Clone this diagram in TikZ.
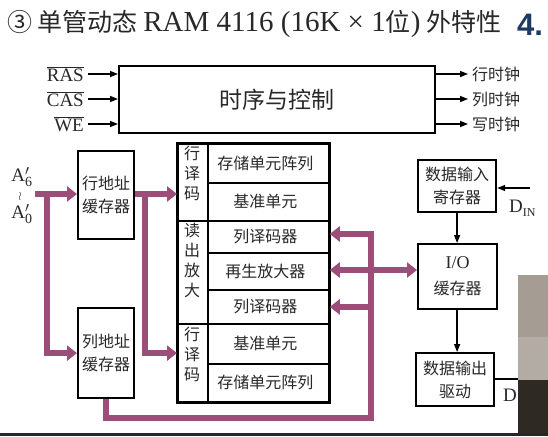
\documentclass[tikz,border=0pt]{standalone}
\usepackage{fontspec}
\setmainfont{Liberation Serif}
\newfontfamily\cjk{Noto Sans CJK SC}
\newfontfamily\hsans{Liberation Sans}
\usetikzlibrary{arrows.meta}
\definecolor{pur}{RGB}{155,78,120}
\definecolor{ttl}{RGB}{30,58,100}
\definecolor{txt}{RGB}{40,40,40}
\definecolor{phA}{RGB}{165,157,148}
\definecolor{phB}{RGB}{178,172,165}
\definecolor{phC}{RGB}{46,41,34}
\begin{document}
\begin{tikzpicture}[x=1pt,y=-1pt,
  bx/.style={draw, line width=2.2pt, inner sep=0pt, anchor=north west, text=txt},
  cell/.style={draw, line width=1.8pt, inner sep=0pt, anchor=north west, text=txt},
  cn/.style={font=\cjk\fontsize{16}{23}\selectfont, text=txt, align=center, inner sep=0pt},
  vt/.style={font=\cjk\fontsize{16}{20}\selectfont, text=txt, align=center, inner sep=0pt, anchor=north},
  lat/.style={font=\fontsize{19}{22}\selectfont, text=txt, inner sep=0pt},
  pa/.style={draw=pur, line width=5.5pt, -{Triangle[length=10pt,width=15pt]}},
  pl/.style={draw=pur, line width=5.5pt},
  ba/.style={draw=black, line width=1.4pt, -{Triangle[length=8pt,width=6pt]}},
  bl/.style={draw=black, line width=1.4pt}]
\useasboundingbox (0,0) rectangle (548,436);
\fill[white] (0,0) rectangle (548,436);

% title
\node[anchor=west, inner sep=0pt, text=txt] (title) at (7,24)
  {\cjk\fontsize{25}{28}\selectfont ③ 单管动态 {\fontspec{Liberation Serif}\fontsize{29}{30}\selectfont RAM 4116 (16K × 1}位{\fontspec{Liberation Serif}\fontsize{29}{30}\selectfont)} 外特性};
\node[anchor=west, inner sep=0pt, text=ttl] (four) at (517,25) {\hsans\bfseries\fontsize{31}{32}\selectfont 4.};

% control box
\node[bx, minimum width=316pt, minimum height=67pt] (ctrl) at (118,65) {};
\node[font=\cjk\fontsize{23}{26}\selectfont, text=txt] (ctrlt) at (ctrl.center) {时序与控制};
\foreach \n/\t/\y in {ras/RAS/74, cas/CAS/99, we/WE/124}{
  \node[lat, anchor=east] (\n) at (84,\y) {$\overline{\mbox{\t}}$};
  \coordinate (\n s) at (88,\y);
  \draw[ba] (\n s) -- (ctrl.west |- \n s);
}
\foreach \n/\t/\y in {rc/行时钟/74, cc/列时钟/99, wc/写时钟/124}{
  \coordinate (\n e) at (468,\y);
  \draw[ba] (ctrl.east |- \n e) -- (\n e);
  \node[cn, anchor=west] (\n) at (472,\y) {\t};
}

% address inputs
\node[lat] (a6) at (22,177) {A$'_{\mbox{\fontsize{14}{14}\selectfont 6}}$};
\node[lat, font=\fontsize{13}{14}\selectfont] (awr) at (20,196) {$\wr$};
\node[lat] (a0) at (22,214) {A$'_{\mbox{\fontsize{14}{14}\selectfont 0}}$};
\coordinate (ainp) at (35,194);
\coordinate (aj) at (47,194);

% buffers
\node[bx, minimum width=56pt, minimum height=88pt] (rowbuf) at (77,150) {};
\node[cn] (rowbuft) at (rowbuf.center) {行地址\\缓存器};
\node[bx, minimum width=56pt, minimum height=90pt] (colbuf) at (77,307) {};
\node[cn] (colbuft) at (colbuf.center) {列地址\\缓存器};

% array
\node[cell, minimum width=30pt, minimum height=77pt] (l1) at (177,143) {};
\node[cell, minimum width=30pt, minimum height=103pt] (l2) at (177,220) {};
\node[cell, minimum width=30pt, minimum height=78pt] (l3) at (177,323) {};
\node[vt] (l1t) at (192,146) {行\\译\\码};
\node[vt] (l2t) at (192,223) {读\\出\\放\\大};
\node[vt] (l3t) at (192,327) {行\\译\\码};
\node[cell, minimum width=121pt, minimum height=39pt] (r1) at (207,143) {};
\node[cell, minimum width=121pt, minimum height=38pt] (r2) at (207,182) {};
\node[cell, minimum width=121pt, minimum height=32pt] (r3) at (207,220) {};
\node[cell, minimum width=121pt, minimum height=37pt] (r4) at (207,252) {};
\node[cell, minimum width=121pt, minimum height=34pt] (r5) at (207,289) {};
\node[cell, minimum width=121pt, minimum height=40pt] (r6) at (207,323) {};
\node[cell, minimum width=121pt, minimum height=38pt] (r7) at (207,363) {};
\node[cn] (r1t) at ([xshift=-3pt]r1.center) {存储单元阵列};
\node[cn] (r2t) at ([xshift=-3pt]r2.center) {基准单元};
\node[cn] (r3t) at ([xshift=-3pt]r3.center) {列译码器};
\node[cn] (r4t) at ([xshift=-3pt]r4.center) {再生放大器};
\node[cn] (r5t) at ([xshift=-3pt]r5.center) {列译码器};
\node[cn] (r6t) at ([xshift=-3pt]r6.center) {基准单元};
\node[cn] (r7t) at ([xshift=-3pt]r7.center) {存储单元阵列};
\draw[line width=2.2pt] (l1.north west) rectangle (r7.south east);

% right side
\node[bx, minimum width=78pt, minimum height=52pt] (din) at (417,159) {};
\node[cn] (dint) at (din.center) {数据输入\\寄存器};
\node[bx, minimum width=79pt, minimum height=65pt] (io) at (417,243) {};
\node[cn, font=\cjk\fontsize{16}{26}\selectfont] (iot) at (io.center) {{\fontspec{Liberation Serif}\fontsize{18}{20}\selectfont I/O}\\缓存器};
\node[bx, minimum width=78pt, minimum height=53pt] (dout) at (415,352) {};
\node[cn] (doutt) at (dout.center) {数据输出\\驱动};
\coordinate (dins) at (530,188);
\draw[ba] (dins) -- (din.east |- dins);
\node[lat, anchor=west] (dinl) at (509,208) {D\raisebox{-4pt}{\fontsize{12}{12}\selectfont IN}};
\draw[ba] (din.south) -- (io.north -| din.south);
\draw[ba] (io.south -| din.south) -- (dout.north -| din.south);
\coordinate (doute) at (520,379);
\draw[bl] (dout.east |- doute) -- (doute);
\node[lat, anchor=west] (doutl) at (503,395) {D};

% purple buses
\draw[pa] (ainp) -- (rowbuf.west |- ainp);
\draw[pa] (aj) |- (colbuf.west);
\draw[pa] (rowbuf.east |- ainp) -- (l1.west |- ainp);
\coordinate (rj) at (145,194);
\draw[pa] (rj) |- (l3.west |- colbuf.west);
\coordinate (bus) at (371,418);
\coordinate (mid) at (371,270);
\coordinate (top) at (371,234);
\draw[pl] (colbuf.south) |- (bus) -- (top);
\draw[pa] ([yshift=2.75pt]top) |- (r3.east |- top);
\draw[pa] (bus |- r5.east) -- (r5.east);
\draw[pa, {Triangle[length=10pt,width=15pt]}-{Triangle[length=10pt,width=15pt]}] (r4.east |- mid) -- (io.west |- mid);

% photo region at right and bottom strip
\fill[phA] (518,275) rectangle (548,337);
\fill[phB] (518,337) rectangle (548,380);
\fill[phC] (518,380) rectangle (548,436);
\fill[black!85] (0,433) rectangle (548,436);
\end{tikzpicture}
\end{document}
